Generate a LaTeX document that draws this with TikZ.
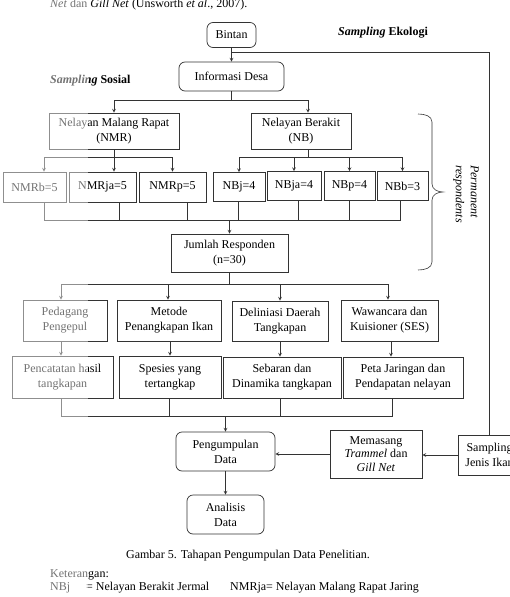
\documentclass[tikz,border=0pt]{standalone}
\usepackage{fontspec}
\setmainfont{Liberation Serif}
\usetikzlibrary{calc}

\begin{document}
\begin{tikzpicture}[x=1pt,y=-1pt,font=\fontsize{12}{15}\selectfont,
  conn/.style={draw=black!80,line width=0.7pt},
  box/.style={draw=black!80,line width=0.7pt,align=center,inner sep=1pt,fill=white},
  rbox/.style={box,rounded corners=6pt},
  txt/.style={inner sep=0pt,anchor=base west}]
  \useasboundingbox (0,0) rectangle (509,597);

  \node[txt] (cite) at (50,7) {\textit{Net} dan \textit{Gill Net} (Unsworth \textit{et al}., 2007).};
  \node (ekol) at (383,33) {\textbf{\textit{Sampling} Ekologi}};
  \node[anchor=west,inner sep=0pt] (sos) at (50,81) {\textbf{\textit{Sampling} Sosial}};

  \node[rbox,minimum width=49,minimum height=25] (bintan) at (231.5,35) {Bintan};
  \node[rbox,minimum width=105,minimum height=29] (info) at (231.5,76.5) {Informasi Desa};
  \node[box,minimum width=130,minimum height=36] (nmr) at (114,131) {Nelayan Malang Rapat\\(NMR)};
  \node[box,minimum width=100,minimum height=36] (nb) at (301,131) {Nelayan Berakit\\(NB)};

  % responden per alat tangkap
  \node[box,minimum width=63,minimum height=30] (nmrb) at (34.5,187) {NMRb=5};
  \node[box,minimum width=67,minimum height=30] (nmrja) at (102.5,187) {NMRja=5};
  \node[box,minimum width=67,minimum height=30] (nmrp) at (172.5,187) {NMRp=5};
  \node[box,minimum width=52,minimum height=29] (nbj) at (239,187) {NBj=4};
  \node[box,minimum width=54,minimum height=29] (nbja) at (294,186) {NBja=4};
  \node[box,minimum width=51,minimum height=29] (nbp) at (349.5,186) {NBp=4};
  \node[box,minimum width=51,minimum height=29] (nbb) at (402.5,186) {NBb=3};

  \node[box,minimum width=117,minimum height=38] (jumlah) at (229.5,253) {Jumlah Responden\\(n=30)};

  \node[box,minimum width=84,minimum height=41] (ped) at (65,320.5) {Pedagang\\Pengepul};
  \node[box,minimum width=104,minimum height=41] (met) at (169,320.5) {Metode\\Penangkapan Ikan};
  \node[box,minimum width=96,minimum height=40] (del) at (280,321) {Deliniasi Daerah\\Tangkapan};
  \node[box,minimum width=97,minimum height=41] (waw) at (389.5,320.5) {Wawancara dan\\Kuisioner (SES)};

  \node[box,minimum width=101,minimum height=42] (penc) at (62.5,377) {Pencatatan hasil\\tangkapan};
  \node[box,minimum width=102,minimum height=42] (spes) at (170,377) {Spesies yang\\tertangkap};
  \node[box,minimum width=118,minimum height=41] (seb) at (282,377.5) {Sebaran dan\\Dinamika tangkapan};
  \node[box,minimum width=120,minimum height=41] (peta) at (403,377.5) {Peta Jaringan dan\\Pendapatan nelayan};

  \node[rbox,minimum width=99,minimum height=39] (peng) at (225.5,451.5) {Pengumpulan\\Data};
  \node[box,minimum width=92,minimum height=48,font=\fontsize{12}{13.5}\selectfont] (mem) at (376,454) {Memasang\\\textit{Trammel} dan\\\textit{Gill Net}};
  \node[box,minimum width=63,minimum height=40] (samp) at (489.5,455) {Sampling\\Jenis Ikan};
  \node[rbox,minimum width=77,minimum height=39] (ana) at (225.5,514.5) {Analisis\\Data};

  % kurung kurawal
  \draw[conn,line width=0.6pt] (418,114) to[out=0,in=90] (432,122) -- (432,184)
    to[out=-90,in=180] (443,192) to[out=180,in=90] (432,200) -- (432,262)
    to[out=-90,in=0] (418,270);
  \node[rotate=-90,align=left,font=\fontsize{12}{15}\selectfont\itshape] (perm) at (466,194) {Permanent\\respondents};

  % alur
  \coordinate (t1) at (231.5,52);
  \draw[conn,-stealth] (bintan) -- (info);
  \draw[conn] (t1) -| (samp);

  \coordinate (b1) at (231.5,100);
  \draw[conn] (info) -- (b1);
  \draw[conn,-stealth] (b1) -| (nmr);
  \draw[conn,-stealth] (b1) -| ([xshift=7]nb.north);

  \coordinate (b2) at (114,157);
  \draw[conn] (nmr) -- (b2);
  \draw[conn,-stealth] (b2) -| ([xshift=9.5]nmrb.north);
  \draw[conn,-stealth] (b2) -- ([xshift=11.5]nmrja.north);
  \draw[conn,-stealth] (b2) -| (nmrp);

  \coordinate (b3) at (308,157);
  \draw[conn] ([xshift=7]nb.south) -- (b3);
  \foreach \n in {nbj,nbja,nbp,nbb}
    \draw[conn,-stealth] (b3) -| (\n);

  \coordinate (b4) at (229.5,220);
  \foreach \n/\s in {nmrb/9.5,nmrja/16.5,nmrp/14.5,nbj/-1,nbja/4,nbp/-0.5,nbb/-2.5}
    \draw[conn] ([xshift=\s]\n.south) |- (b4);
  \draw[conn,-stealth] (b4) -- (jumlah);

  \coordinate (b5) at (229.5,284);
  \draw[conn] (jumlah) -- (b5);
  \foreach \n/\s in {ped/-4,met/-1,del/0,waw/-1.5}
    \draw[conn,-stealth] (b5) -| ([xshift=\s]\n.north);

  \foreach \a/\b/\s in {ped/penc/-4,met/spes/1,del/seb/0,waw/peta/1.5}
    \draw[conn,-stealth] ([xshift=\s]\a.south) -- ([xshift=\s]\a.south |- \b.north);

  \coordinate (b6) at (225.5,416);
  \foreach \n/\s in {penc/-1.5,spes/-1,seb/-2,peta/-11}
    \draw[conn] ([xshift=\s]\n.south) |- (b6);
  \draw[conn,-stealth] (b6) -- (peng);

  \draw[conn,-stealth] (samp.west) -- (samp.west -| mem.east);
  \draw[conn,-stealth] (mem.west) -- (mem.west -| peng.east);
  \draw[conn,-stealth] (peng) -- (ana);

  \node (capt) at (248,556) {Gambar 5. Tahapan Pengumpulan Data Penelitian.};
  \node[txt] (ket) at (50,577) {Keterangan:};
  \node[txt] (k1) at (50,590) {NBj};
  \node[txt] (k2) at (86,590) {= Nelayan Berakit Jermal};
  \node[txt] (k3) at (230,590) {NMRja= Nelayan Malang Rapat Jaring};

  \fill[white,opacity=0.45] (0,0) rectangle (88,597);
\end{tikzpicture}
\end{document}
